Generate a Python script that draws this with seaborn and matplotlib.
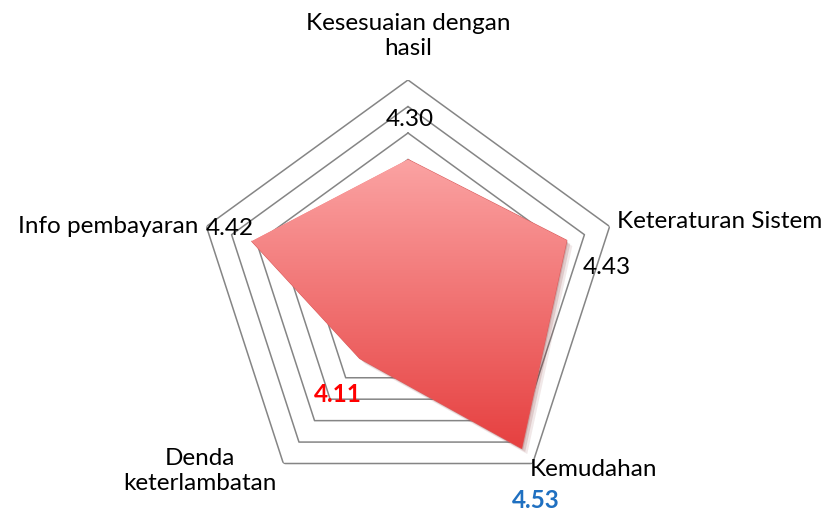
import numpy as np
import matplotlib
matplotlib.use("Agg")
import matplotlib.pyplot as plt
import matplotlib.patheffects as pe
import seaborn as sns

# data
categories = ["Kesesuaian dengan\nhasil", "Keteraturan Sistem", "Kemudahan",
              "Denda\nketerlambatan", "Info pembayaran"]
values = [4.30, 4.43, 4.53, 4.11, 4.42]
ring_levels = [3.9, 4.0, 4.1, 4.2, 4.3, 4.4, 4.5, 4.6]
r_min, r_max = 3.8, 4.6

sns.set_theme(style="white")
plt.rcParams['font.family'] = ['Lato', 'DejaVu Sans']
plt.rcParams['text.color'] = 'black'

W, H = 829, 517
fig = plt.figure(figsize=(W / 100, H / 100), dpi=100)
fig.patch.set_facecolor("white")

cx, cy, R = 408, 292, 212
ax = fig.add_axes([(cx - R) / W, (H - cy - R) / H, 2 * R / W, 2 * R / H], projection="polar")
ax.set_theta_zero_location("N")
ax.set_theta_direction(-1)
ax.set_ylim(r_min, r_max)
ax.grid(False)
ax.spines["polar"].set_visible(False)
ax.set_xticks([])
ax.set_yticks([])
ax.set_facecolor("none")

n = len(categories)
angles = np.linspace(0, 2 * np.pi, n, endpoint=False)
ang_c = np.append(angles, angles[0])

# pentagon grid
for lv in ring_levels:
    ax.plot(ang_c, [lv] * (n + 1), color="#858585", lw=1.1, zorder=1)

vals_c = np.append(values, values[0])
poly = ax.fill(ang_c, vals_c, color="#f27777", zorder=3, lw=0)[0]
# soft shadow: a few stacked offsets
poly.set_path_effects([pe.SimplePatchShadow(offset=(4, -4), shadow_rgbFace="#7a2020", alpha=0.10),
                       pe.SimplePatchShadow(offset=(2.5, -2.5), shadow_rgbFace="#7a2020", alpha=0.15),
                       pe.SimplePatchShadow(offset=(1, -1), shadow_rgbFace="#7a2020", alpha=0.2),
                       pe.Normal()])
sns.lineplot(x=ang_c, y=vals_c, sort=False, ax=ax, color="#d86060", lw=0.8, zorder=4)

# gradient fill clipped to the polygon
fig.canvas.draw()
bb = poly.get_window_extent(fig.canvas.get_renderer()).transformed(fig.transFigure.inverted())
gax = fig.add_axes([0, 0, 1, 1], zorder=5)
gax.axis("off")
gax.set_xlim(0, 1)
gax.set_ylim(0, 1)
top = np.array([0xfb, 0xa3, 0xa3]) / 255
bot = np.array([0xe6, 0x40, 0x40]) / 255
t = np.linspace(0, 1, 256)[:, None]
grad = (top * (1 - t) + bot * t)[:, None, :]
im = gax.imshow(grad, extent=[bb.x0, bb.x1, bb.y0, bb.y1], aspect="auto", origin="upper", zorder=1)
im.set_clip_path(poly)


def ftext(x, y, s, **kw):
    fig.text(x / W, 1 - y / H, s, **kw)


fs = 17.5
# category labels
ftext(408, 36, categories[0], ha="center", va="center", fontsize=fs, linespacing=1.25)
ftext(617, 222, categories[1], ha="left", va="center", fontsize=fs)
ftext(530, 470, categories[2], ha="left", va="center", fontsize=fs)
ftext(200, 471, categories[3], ha="center", va="center", fontsize=fs, linespacing=1.25)
ftext(198, 227, categories[4], ha="right", va="center", fontsize=fs)

# value labels
ftext(410, 120, f"{values[0]:.2f}", ha="center", va="center", fontsize=fs, zorder=6)
ftext(607, 267, f"{values[1]:.2f}", ha="center", va="center", fontsize=fs, zorder=6)
ftext(536, 500, f"{values[2]:.2f}", ha="center", va="center", fontsize=fs,
      color="#1f70c1", fontweight="bold", zorder=6)
ftext(338, 394, f"{values[3]:.2f}", ha="center", va="center", fontsize=fs,
      color="#ff0000", fontweight="bold", zorder=6)
ftext(230, 228, f"{values[4]:.2f}", ha="center", va="center", fontsize=fs, zorder=6)

fig.savefig("out.png", dpi=100, facecolor="white")
